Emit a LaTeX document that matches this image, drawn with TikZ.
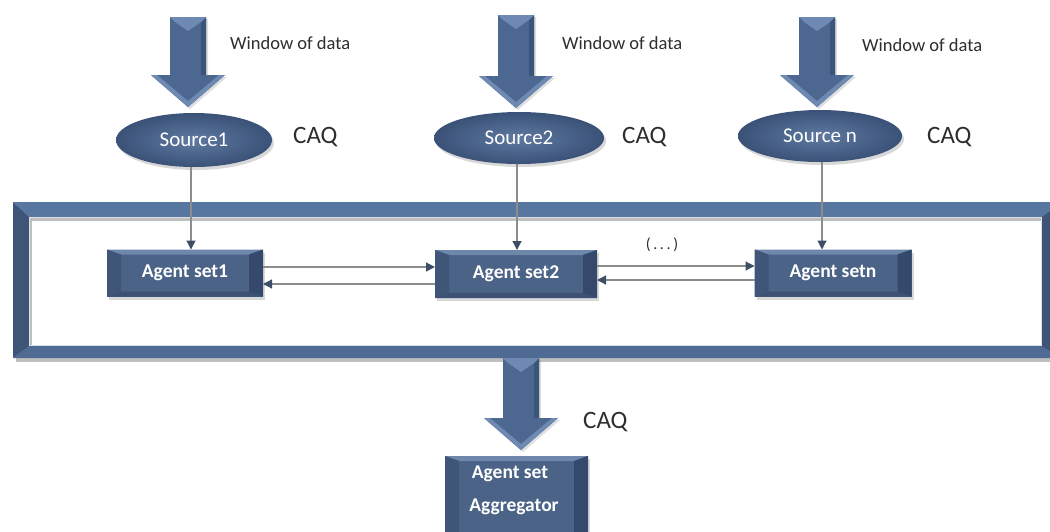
\documentclass[tikz,border=0pt]{standalone}
\usepackage{fontspec}
\setmainfont{Carlito}
\usetikzlibrary{shapes.geometric,arrows.meta,shadows,calc}
\definecolor{bmain}{HTML}{4A6387}
\definecolor{bT}{HTML}{6E88AC}
\definecolor{bB}{HTML}{3C5174}
\definecolor{bL}{HTML}{3F5679}
\definecolor{bR}{HTML}{34496B}
\definecolor{blight}{HTML}{5F79A0}
\definecolor{bdark}{HTML}{3A5278}
\definecolor{arrowc}{HTML}{4C6790}
\definecolor{arrowl}{HTML}{6F8AB2}
\definecolor{arrowd}{HTML}{3B5479}
\definecolor{linegray}{HTML}{8C8C8C}
\definecolor{headc}{HTML}{3E4E66}
\definecolor{txtgray}{HTML}{2E2E2E}
\definecolor{frT}{HTML}{5877A0}
\definecolor{frL}{HTML}{3E5578}
\definecolor{frB}{HTML}{4F6B94}
\definecolor{frR}{HTML}{3E5578}
\newcommand{\bev}[3]{%
 \fill[bT] (#1.north west) -- (#1.north east) -- ([shift={(-#2,-#3)}]#1.north east) -- ([shift={(#2,-#3)}]#1.north west) -- cycle;
 \fill[bB] (#1.south west) -- (#1.south east) -- ([shift={(-#2,#3)}]#1.south east) -- ([shift={(#2,#3)}]#1.south west) -- cycle;
 \fill[bL] (#1.north west) -- ([shift={(#2,-#3)}]#1.north west) -- ([shift={(#2,#3)}]#1.south west) -- (#1.south west) -- cycle;
 \fill[bR] (#1.north east) -- ([shift={(-#2,-#3)}]#1.north east) -- ([shift={(-#2,#3)}]#1.south east) -- (#1.south east) -- cycle;}
\newcommand{\barrow}[3]{%
 \fill[arrowc, drop shadow={shadow xshift=2pt,shadow yshift=-2pt,opacity=0.25}] (#1-18,#2) -- (#1+18,#2) -- (#1+18,#3-32) -- (#1+37,#3-32) -- (#1,#3) -- (#1-37,#3-32) -- (#1-18,#3-32) -- cycle;
 \fill[arrowd] (#1+13,#2+5) -- (#1+18,#2) -- (#1+18,#3-32) -- (#1+13,#3-32) -- cycle;
 \fill[arrowl] (#1-18,#2) -- (#1+18,#2) -- (#1+13,#2+5) -- (#1,#2+14) -- (#1-13,#2+5) -- cycle;
 \fill[arrowl] (#1-37,#3-32) -- (#1,#3) -- (#1+37,#3-32) -- (#1+31,#3-32) -- (#1,#3-6) -- (#1-31,#3-32) -- cycle;}
\begin{document}
\begin{tikzpicture}[x=1pt,y=-1pt,
 lbl/.style={font=\fontsize{18.5}{20}\selectfont, text=txtgray, inner sep=0pt, anchor=west},
 caq/.style={font=\fontsize{25}{27}\selectfont, text=txtgray, inner sep=0pt, anchor=west},
 src/.style={ellipse, inner sep=0pt, outer sep=0pt, inner color=blight, outer color=bdark, text=white,
   font=\fontsize{21}{23}\selectfont, drop shadow={shadow xshift=2pt,shadow yshift=-3pt,opacity=0.3}},
 agent/.style={rectangle, inner sep=0pt, outer sep=0pt, fill=bmain, text=white,
   drop shadow={shadow xshift=2pt,shadow yshift=-3pt,opacity=0.3}},
 boxtext/.style={text=white, font=\bfseries\fontsize{19.5}{21}\selectfont, inner sep=0pt},
 conn/.style={draw=linegray, line width=1.2pt, -{Triangle[length=9pt,width=9pt,color=headc]}}
]
\path[use as bounding box, clip] (0,0) rectangle (1050,531);
\fill[white] (0,0) rectangle (1050,531);

% outer frame
\fill[black!25] (16,206) rectangle (1060,362);
\fill[white] (32,221) rectangle (1045,350);
\fill[frT] (13,202) -- (1062,202) -- (1046,217) -- (29,217) -- cycle;
\fill[frB] (13,358) -- (1062,358) -- (1046,346) -- (29,346) -- cycle;
\fill[frL] (13,202) -- (29,217) -- (29,346) -- (13,358) -- cycle;
\fill[frR] (1062,202) -- (1042,217) -- (1042,346) -- (1062,358) -- cycle;
\fill[frL] (1042,217) rectangle (1062,346);
\draw[white!80!bmain, line width=1pt] (29.5,217.5) rectangle (1041.5,345.5);

% block arrows (window of data)
\barrow{188}{17}{107}
\barrow{516}{15}{108}
\barrow{817}{17}{107}
\node[lbl] (t1) at (230,43) {Window of data};
\node[lbl] (t2) at (562,43) {Window of data};
\node[lbl] (t3) at (862,45) {Window of data};

% sources
\node[src, minimum width=156, minimum height=54] (s1) at (194,140) {Source1};
\node[src, minimum width=170, minimum height=52] (s2) at (519,138) {Source2};
\node[src, minimum width=164, minimum height=52] (sn) at (820,136) {Source n};
\node[caq] (c1) at (293,137) {CAQ};
\node[caq] (c2) at (622,137) {CAQ};
\node[caq] (c3) at (927,137) {CAQ};

% agent sets
\node[agent, minimum width=156, minimum height=47] (a1) at (185,273) {};
\node[agent, minimum width=162, minimum height=48] (a2) at (516,274) {};
\node[agent, minimum width=157, minimum height=47] (an) at (833,273) {};
\bev{a1}{14pt}{5pt}
\bev{a2}{14pt}{5pt}
\bev{an}{14pt}{5pt}
\node[boxtext] (a1t) at (a1) {Agent set1};
\node[boxtext] (a2t) at (a2) {Agent set2};
\node[boxtext] (ant) at (an) {Agent setn};

% connectors source -> agent
\draw[conn] ([xshift=-3pt]s1.south) -- ([xshift=-3pt]s1.south |- a1.north);
\draw[conn] ([xshift=-2pt]s2.south) -- ([xshift=-2pt]s2.south |- a2.north);
\draw[conn] ([xshift=2pt]sn.south) -- ([xshift=2pt]sn.south |- an.north);

% horizontal connectors
\draw[conn] ([yshift=6pt]a1.east) -- ([yshift=6pt]a1.east -| a2.west);
\draw[conn] ([yshift=-10pt]a2.west) -- ([yshift=-10pt]a2.west -| a1.east);
\draw[conn] ([yshift=8pt]a2.east) -- ([yshift=8pt]a2.east -| an.west);
\draw[conn] ([yshift=-7pt]an.west) -- ([yshift=-7pt]an.west -| a2.east);
\node[font=\fontsize{16}{18}\selectfont, text=txtgray] (dots) at (662,245) {(\,.\,.\,.\,)};

% bottom arrow and aggregator
\barrow{521}{358}{450}
\node[caq] (c4) at (583,422) {CAQ};
\node[agent, minimum width=143, minimum height=95, anchor=north] (agg) at (516.5,456) {};
\bev{agg}{14pt}{5pt}
\node[boxtext] (agt1) at (510,474) {Agent set};
\node[boxtext] (agt2) at (514,507) {Aggregator};
\end{tikzpicture}
\end{document}
